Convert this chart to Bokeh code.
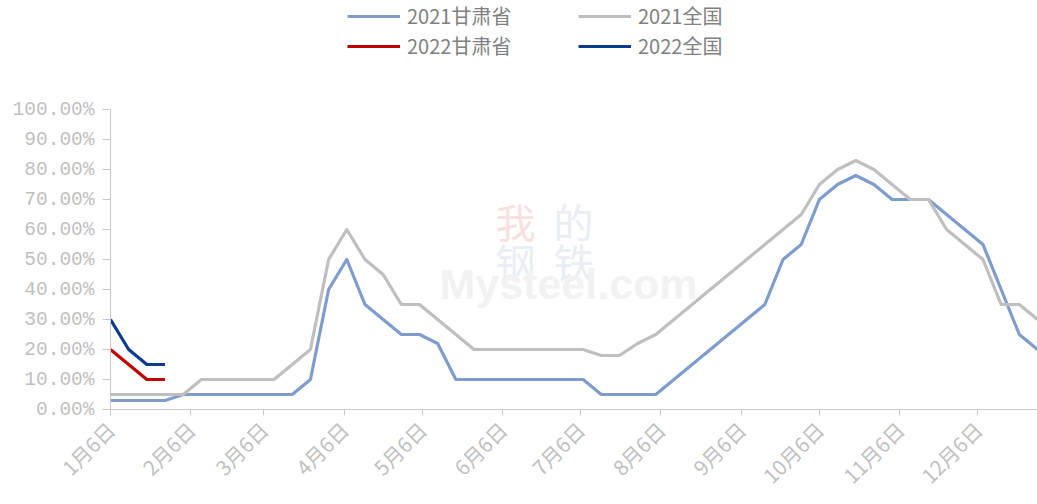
import math
import pandas as pd
from bokeh.plotting import figure
from bokeh.models import (Range1d, FixedTicker, PrintfTickFormatter, Legend,
                          LegendItem, Label, ColumnDataSource)
from bokeh.embed import file_html
from bokeh.resources import INLINE

# ---------------- data ----------------
dates = [
    "2021-01-06", "2021-01-13", "2021-01-20", "2021-01-27",
    "2021-02-03", "2021-02-10", "2021-02-17", "2021-02-24",
    "2021-03-03", "2021-03-10", "2021-03-17", "2021-03-24", "2021-03-31",
    "2021-04-07", "2021-04-14", "2021-04-21", "2021-04-28",
    "2021-05-05", "2021-05-12", "2021-05-19", "2021-05-26",
    "2021-06-02", "2021-06-09", "2021-06-16", "2021-06-23", "2021-06-30",
    "2021-07-07", "2021-07-14", "2021-07-21", "2021-07-28",
    "2021-08-04", "2021-08-11", "2021-08-18", "2021-08-25",
    "2021-09-01", "2021-09-08", "2021-09-15", "2021-09-22", "2021-09-29",
    "2021-10-06", "2021-10-13", "2021-10-20", "2021-10-27",
    "2021-11-03", "2021-11-10", "2021-11-17", "2021-11-24",
    "2021-12-01", "2021-12-08", "2021-12-15", "2021-12-22", "2021-12-29",
]
gansu_2021 = [3, 3, 3, 3, 5, 5, 5, 5, 5, 5, 5, 10, 40, 50, 35, 30, 25, 25, 22,
              10, 10, 10, 10, 10, 10, 10, 10, 5, 5, 5, 5, 10, 15, 20, 25, 30,
              35, 50, 55, 70, 75, 78, 75, 70, 70, 70, 65, 60, 55, 40, 25, 20]
national_2021 = [5, 5, 5, 5, 5, 10, 10, 10, 10, 10, 15, 20, 50, 60, 50, 45, 35,
                 35, 30, 25, 20, 20, 20, 20, 20, 20, 20, 18, 18, 22, 25, 30, 35,
                 40, 45, 50, 55, 60, 65, 75, 80, 83, 80, 75, 70, 70, 60, 55, 50,
                 35, 35, 30]
gansu_2022 = [20, 15, 10, 10]
national_2022 = [30, 20, 15, 15]

tick_dates = ["2021-01-06", "2021-02-06", "2021-03-06", "2021-04-06",
              "2021-05-06", "2021-06-06", "2021-07-06", "2021-08-06",
              "2021-09-06", "2021-10-06", "2021-11-06", "2021-12-06"]
tick_labels = ["1月6日", "2月6日", "3月6日", "4月6日", "5月6日", "6月6日",
               "7月6日", "8月6日", "9月6日", "10月6日", "11月6日", "12月6日"]
y_ticks = [0, 10, 20, 30, 40, 50, 60, 70, 80, 90, 100]

series_names = ["2021甘肃省", "2021全国", "2022甘肃省", "2022全国"]
series_colors = ["#7f9dcc", "#bfbfbf", "#c00000", "#0b3c8c"]

# ---------------- figure ----------------
W, H = 1037, 504
BORDER_LEFT, BORDER_BOTTOM = 110, 95
FRAME_H = H - BORDER_BOTTOM
PX_PER_PCT = 3.0

x_dt = pd.to_datetime(dates)
src21 = ColumnDataSource(dict(x=x_dt, g=gansu_2021, n=national_2021))
src22 = ColumnDataSource(dict(x=x_dt[:len(gansu_2022)], g=gansu_2022, n=national_2022))

p = figure(width=W, height=H, output_backend="svg", toolbar_location=None,
           x_axis_type="datetime",
           x_range=Range1d(pd.Timestamp(dates[0]), pd.Timestamp(dates[-1])),
           y_range=Range1d(0, FRAME_H / PX_PER_PCT),
           min_border_left=BORDER_LEFT, min_border_right=0,
           min_border_top=0, min_border_bottom=BORDER_BOTTOM)
p.outline_line_color = None
p.xgrid.visible = False
p.ygrid.visible = False
p.background_fill_color = "white"

# watermark (very faint)
for txt, sx, sy, col in [("我", 405, 189, "#f9e0e0"), ("的", 463, 189, "#e9edf4"),
                         ("钢", 405, 149, "#e9edf4"), ("铁", 463, 149, "#e9edf4")]:
    p.add_layout(Label(x=sx, y=sy, x_units="screen", y_units="screen", text=txt,
                       text_align="center", text_baseline="middle",
                       text_font="Noto Sans CJK SC", text_font_size="40px",
                       text_color=col, level="underlay"))
p.add_layout(Label(x=458, y=126, x_units="screen", y_units="screen", text="Mysteel.com",
                   text_align="center", text_baseline="middle",
                   text_font="Liberation Sans", text_font_style="bold",
                   text_font_size="43px", text_color="#f2f2f2", level="underlay"))

r_g21 = p.line("x", "g", source=src21, line_color=series_colors[0], line_width=3.2, line_join="round")
r_n21 = p.line("x", "n", source=src21, line_color=series_colors[1], line_width=3.2, line_join="round")
r_g22 = p.line("x", "g", source=src22, line_color=series_colors[2], line_width=3.2, line_join="round")
r_n22 = p.line("x", "n", source=src22, line_color=series_colors[3], line_width=3.2, line_join="round")

# ---------------- axes ----------------
tick_ms = [int(pd.Timestamp(d).value // 10**6) for d in tick_dates]
xa = p.xaxis[0]
xa.ticker = FixedTicker(ticks=tick_ms)
xa.major_label_overrides = {t: l for t, l in zip(tick_ms, tick_labels)}
xa.major_label_orientation = math.pi / 4
xa.axis_line_color = "#c8c8c8"
xa.major_tick_line_color = "#c8c8c8"
xa.major_tick_out = 6
xa.major_tick_in = 0
xa.minor_tick_line_color = None
xa.major_label_text_color = "#c0c0c0"
xa.major_label_text_font = "Noto Sans CJK SC"
xa.major_label_text_font_size = "20.5px"
xa.major_label_standoff = 10

ya = p.yaxis[0]
ya.ticker = FixedTicker(ticks=y_ticks)
ya.formatter = PrintfTickFormatter(format="%.2f%%")
ya.bounds = (y_ticks[0], y_ticks[-1])
ya.axis_line_color = "#c8c8c8"
ya.major_tick_line_color = "#c8c8c8"
ya.major_tick_out = 8
ya.major_tick_in = 0
ya.minor_tick_line_color = None
ya.major_label_text_color = "#bfbfbf"
ya.major_label_text_font = "Liberation Mono"
ya.major_label_text_font_size = "19.5px"
ya.major_label_standoff = 8

# ---------------- legends ----------------
def make_legend(items, x):
    return Legend(items=items, location=(x, FRAME_H - 60), orientation="vertical",
                  label_text_font="Noto Sans CJK SC", label_text_font_size="20px",
                  label_text_color="#808080", glyph_width=53, glyph_height=20,
                  label_standoff=7, spacing=1, padding=0, margin=0,
                  border_line_alpha=0, background_fill_alpha=0)

p.add_layout(make_legend([LegendItem(label=series_names[0], renderers=[r_g21]),
                          LegendItem(label=series_names[2], renderers=[r_g22])], 237), "center")
p.add_layout(make_legend([LegendItem(label=series_names[1], renderers=[r_n21]),
                          LegendItem(label=series_names[3], renderers=[r_n22])], 468), "center")

open("out.html", "w").write(file_html(p, INLINE))
